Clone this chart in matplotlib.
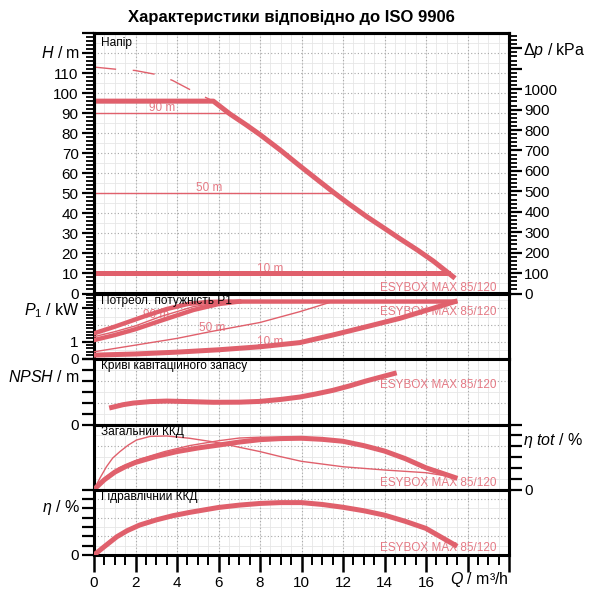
import numpy as np
import matplotlib
matplotlib.use("Agg")
import matplotlib.pyplot as plt
import matplotlib.transforms as mtransforms

plt.rcParams["font.family"] = ["Liberation Sans", "DejaVu Sans"]
plt.rcParams["mathtext.fontset"] = "custom"
plt.rcParams["mathtext.rm"] = "Liberation Sans"
plt.rcParams["mathtext.it"] = "Liberation Sans:italic"

RED = "#e0606c"
PINK = "#e57a85"

# --- Напір (H / m) ---
q_head = [0, 5.75, 6.55, 7.3, 8.0, 9.0, 9.93, 10.8, 11.54, 12.3, 13.14, 14.0, 14.75, 15.6, 16.35, 17.4]
h_head = [96, 96, 89.6, 84.4, 79.3, 71.4, 63.6, 56.5, 50.5, 44.6, 38.4, 32.5, 27.3, 21.6, 16.2, 7.6]
q_dash = [0, 1.17, 1.98, 3.15, 3.79, 4.91, 5.75]
h_dash = [113, 111.8, 111.3, 109, 106.3, 100.2, 96]
q_h90 = [0, 6.5]
h_h90 = [90, 90]
q_h50 = [0, 11.55]
h_h50 = [50, 50]
q_h10 = [0, 17.05]
h_h10 = [10, 10]

# --- Потужність P1 / kW ---
q_pa = [0, 1, 2.5, 3.5, 4.5, 5.5, 6.5, 17.4]
p_pa = [1.5, 1.9, 2.55, 2.95, 3.25, 3.38, 3.4, 3.4]
q_pb = [0, 1, 2, 3.2, 4.8, 6, 7]
p_pb = [1.1, 1.4, 1.75, 2.25, 2.9, 3.25, 3.4]
q_p90 = [0, 1, 2, 3.2, 4.8, 6, 6.8]
p_p90 = [1.3, 1.6, 1.95, 2.5, 3.1, 3.33, 3.4]
q_p50 = [0, 2, 4, 5.6, 8, 9.93, 11.5]
p_p50 = [0.4, 0.8, 1.2, 1.6, 2.15, 2.8, 3.4]
q_p10 = [0, 2, 4, 6, 8, 9.93, 11.5, 13.14, 14.75, 16.35, 17.4]
p_p10 = [0.2, 0.27, 0.38, 0.52, 0.7, 0.95, 1.4, 1.9, 2.4, 3.0, 3.4]

# --- NPSH / m ---
q_npsh = [0.85, 1.4, 1.9, 2.7, 3.5, 4.6, 5.75, 7, 8, 9, 9.93, 10.7, 11.5, 12.3, 13.1, 14.47]
npsh = [1.55, 1.8, 1.95, 2.08, 2.13, 2.08, 2.02, 2.03, 2.1, 2.28, 2.5, 2.78, 3.1, 3.5, 3.95, 4.64]

# --- Загальний ККД / % ---
q_et = [0, 0.5, 1, 1.5, 2, 3, 4, 5, 6, 7, 8, 9, 10, 11, 12, 13, 14, 15, 16, 17.4]
e_tot = [0, 9, 16, 21, 25, 30.5, 35, 38.3, 41, 43.8, 46, 47, 47.3, 46.3, 44.5, 40.5, 35.5, 28.5, 20, 11]
q_et1 = [0, 0.3, 0.6, 0.9, 1.25, 1.65, 2.05, 2.7, 3.5, 4.6, 6, 7, 8, 9, 10, 12, 14, 16, 17.4]
e_tot1 = [0, 11, 21, 29, 35, 41, 45.7, 49, 49.4, 47.3, 43.2, 39, 35, 30.3, 26, 21, 18, 15.5, 11.3]
q_et2 = [0, 0.6, 1.2, 2.2, 3.4, 4.6, 6, 7, 8, 10, 11.5]
e_tot2 = [0, 12, 20, 28, 35, 40.5, 45, 47.5, 48.3, 48, 45.8]

# --- Гідравлічний ККД / % ---
q_eh = [0, 0.5, 1.1, 1.6, 2.2, 3, 3.8, 4.6, 6, 7, 8, 9, 10, 11, 12, 13, 14, 15, 16, 17.4]
e_hyd = [0, 9, 19.5, 26, 32, 37.5, 42, 45.5, 50.8, 53.3, 55.1, 56, 56, 54, 51, 47.3, 42.6, 36, 28.4, 10.6]

q_ticks = [0, 2, 4, 6, 8, 10, 12, 14, 16, 18, 20]
q_labels = ["0", "2", "4", "6", "8", "10", "12", "14", "16", "", ""]


def draw_grid(ax, ymajor, yminor):
    for x in np.arange(0, 20.01, 0.5):
        ax.axvline(x, color="#e6e6e6", lw=0.6, zorder=0)
    for y in yminor:
        ax.axhline(y, color="#e6e6e6", lw=0.6, zorder=0)
    for x in np.arange(2, 20, 2):
        ax.axvline(x, color="#a8a8a8", lw=0.8, ls=(0, (1, 2)), zorder=0.5)
    for y in ymajor:
        ax.axhline(y, color="#a8a8a8", lw=0.8, ls=(0, (1, 2)), zorder=0.5)


def style(ax, title, tag_y):
    ax.set_xlim(0, 20)
    for s in ax.spines.values():
        s.set_linewidth(2.2)
    ax.tick_params(axis="x", which="both", bottom=False, labelbottom=False)
    ax.tick_params(axis="y", which="major", direction="out", length=9, width=1.6, labelsize=11, pad=2)
    ax.tick_params(axis="y", which="minor", direction="out", length=6, width=1.3)
    ax.text(0.017, 0.985, title, transform=ax.transAxes, fontsize=8.6, va="top", ha="left", zorder=5)
    ax.text(0.969, tag_y, "ESYBOX MAX 85/120", transform=ax.transAxes, fontsize=8.5,
            color=PINK, ha="right", va="center", zorder=1)


def side_label(ax, y, text, right=False):
    tr = mtransforms.blended_transform_factory(ax.transAxes, ax.transData)
    if right:
        ax.text(1.034, y, text, transform=tr, ha="left", va="center", fontsize=11.5)
    else:
        ax.text(-0.034, y, text, transform=tr, ha="right", va="center", fontsize=11.5)


def main():
    fig = plt.figure(figsize=(6.0, 5.98), dpi=100)
    left, width = 94 / 600, 415 / 600
    ax_h = fig.add_axes([left, 1 - 293.5 / 598, width, 260.5 / 598])
    ax_p = fig.add_axes([left, 1 - 358.5 / 598, width, 65 / 598])
    ax_n = fig.add_axes([left, 1 - 424.5 / 598, width, 66 / 598])
    ax_t = fig.add_axes([left, 1 - 489.5 / 598, width, 65 / 598])
    ax_e = fig.add_axes([left, 1 - 555 / 598, width, 65.5 / 598])

    fig.text(0.485, 0.97, "Характеристики відповідно до ISO 9906", ha="center", va="center",
             fontsize=12, fontweight="bold")

    # head panel
    ax = ax_h
    ax.set_ylim(0, 130)
    draw_grid(ax, np.arange(10, 130, 10), np.arange(5, 130, 10))
    style(ax, "Напір", 0.022)
    ax.set_yticks(np.arange(0, 131, 10))
    ax.set_yticklabels([str(v) for v in range(0, 120, 10)] + ["", ""])
    ax.set_yticks(np.arange(0, 131, 2), minor=True)
    ax.plot(q_dash, h_dash, color=RED, lw=1, dashes=(16, 12), zorder=3)
    ax.plot(q_h90, h_h90, color=RED, lw=1, zorder=3)
    ax.plot(q_h50, h_h50, color=RED, lw=1, zorder=3)
    ax.plot(q_h10, h_h10, color=RED, lw=3.6, zorder=3)
    ax.plot(q_head, h_head, color=RED, lw=3.6, zorder=4, solid_joinstyle="round", solid_capstyle="butt")
    ax.text(3.26, 92.6, "90 m", color=PINK, fontsize=8.5, ha="center", va="center", zorder=2)
    ax.text(5.56, 52.4, "50 m", color=PINK, fontsize=8.5, ha="center", va="center", zorder=2)
    ax.text(8.5, 12.4, "10 m", color=PINK, fontsize=8.5, ha="center", va="center", zorder=2)
    side_label(ax, 120, r"$H$ / m")

    ax2 = ax.twinx()
    kpa_max = 130 * 9.80665
    ax2.set_ylim(0, kpa_max)
    ax2.set_yticks(np.arange(0, 1201, 100))
    ax2.set_yticklabels([str(v) for v in range(0, 1001, 100)] + ["", ""])
    ax2.set_yticks(np.arange(0, kpa_max, 20), minor=True)
    ax2.tick_params(axis="y", which="major", direction="out", length=9, width=1.6, labelsize=11, pad=2)
    ax2.tick_params(axis="y", which="minor", direction="out", length=6, width=1.3)
    for s in ax2.spines.values():
        s.set_linewidth(2.2)
    side_label(ax2, 1190, r"Δ$p$ / kPa", right=True)

    # power panel
    ax = ax_p
    ax.set_ylim(0, 3.88)
    draw_grid(ax, [1, 2, 3], [0.5, 1.5, 2.5, 3.5])
    style(ax, "Потребл. потужність P1", 0.72)
    ax.set_yticks([0, 1, 3])
    ax.set_yticklabels(["0", "1", ""])
    ax.set_yticks(np.arange(0, 3.9, 0.2), minor=True)
    ax.text(3.0, 2.6, "90 m", color=PINK, fontsize=8.5, ha="center", va="center", zorder=1)
    ax.text(5.7, 1.83, "50 m", color=PINK, fontsize=8.5, ha="center", va="center", zorder=1)
    ax.text(8.5, 1.0, "10 m", color=PINK, fontsize=8.5, ha="center", va="center", zorder=1)
    ax.plot(q_p90, p_p90, color=RED, lw=1, zorder=3)
    ax.plot(q_p50, p_p50, color=RED, lw=1, zorder=3)
    ax.plot(q_pb, p_pb, color=RED, lw=3.2, zorder=3, solid_joinstyle="round")
    ax.plot(q_pa, p_pa, color=RED, lw=3.2, zorder=3, solid_joinstyle="round")
    ax.plot(q_p10, p_p10, color=RED, lw=3.6, zorder=3, solid_joinstyle="round")
    side_label(ax, 2.85, r"$P_1$ / kW")

    # NPSH panel
    ax = ax_n
    ax.set_ylim(0, 6)
    draw_grid(ax, [2, 4], [1, 3, 5])
    style(ax, "Криві кавітаційного запасу", 0.606)
    ax.set_yticks(np.arange(0, 7, 1))
    ax.set_yticklabels(["0", "", "", "", "", "", ""])
    ax.plot(q_npsh, npsh, color=RED, lw=3.6, zorder=3, solid_joinstyle="round")
    side_label(ax, 4.35, r"$NPSH$ / m")

    # total efficiency
    ax = ax_t
    ax.set_ylim(0, 60)
    draw_grid(ax, [20, 40], [10, 30, 50])
    style(ax, "Загальний ККД", 0.095)
    ax.yaxis.tick_right()
    ax.set_yticks(np.arange(0, 61, 10))
    ax.set_yticklabels(["0", "", "", "", "", "", ""])
    ax.tick_params(axis="y", which="major", direction="out", length=9, width=1.6, labelsize=11, pad=2)
    ax.plot(q_et1, e_tot1, color=RED, lw=1, zorder=3, solid_joinstyle="round")
    ax.plot(q_et2, e_tot2, color=RED, lw=1, zorder=3, solid_joinstyle="round")
    ax.plot(q_et, e_tot, color=RED, lw=3.6, zorder=3, solid_joinstyle="round")
    side_label(ax, 45, r"$\eta\ tot$ / %", right=True)

    # hydraulic efficiency
    ax = ax_e
    ax.set_ylim(0, 70)
    draw_grid(ax, [20, 40, 60], [10, 30, 50])
    style(ax, "Гідравлічний ККД", 0.10)
    ax.set_yticks(np.arange(0, 71, 10))
    ax.set_yticklabels(["0"] + [""] * 7)
    ax.plot(q_eh, e_hyd, color=RED, lw=3.6, zorder=3, solid_joinstyle="round")
    side_label(ax, 51, r"$\eta$ / %")

    ax.tick_params(axis="x", which="major", bottom=True, labelbottom=True, direction="out",
                   length=12, width=1.8, labelsize=11, pad=3)
    ax.tick_params(axis="x", which="minor", bottom=True, direction="out", length=7, width=1.4)
    ax.set_xticks(q_ticks)
    ax.set_xticklabels(q_labels)
    ax.set_xticks(np.arange(0, 20.01, 0.5), minor=True)
    tr = mtransforms.blended_transform_factory(ax.transData, ax.transAxes)
    ax.text(18.58, -0.38, r"$Q$ / m³/h", transform=tr, ha="center", va="center", fontsize=11.5)

    fig.savefig("out.png", dpi=100)
    plt.close(fig)


if __name__ == "__main__":
    main()
